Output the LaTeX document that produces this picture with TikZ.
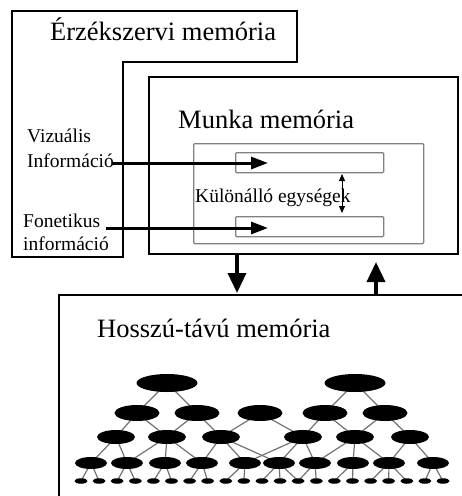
\documentclass[tikz,border=0pt]{standalone}
\usepackage{fontspec}
\setmainfont{Liberation Serif}
\usetikzlibrary{shapes.geometric,arrows.meta,backgrounds}
\begin{document}
\begin{tikzpicture}[x=1pt,y=-1pt,
  frame/.style={draw=black,line width=2pt},
  grayframe/.style={draw=black!50,line width=1.3pt,rounded corners=1pt},
  bigtext/.style={font=\fontsize{26.5}{30}\selectfont,inner sep=0,anchor=base west},
  smalltext/.style={font=\fontsize{19.5}{23}\selectfont,inner sep=0,anchor=base west},
  flowarrow/.style={line width=3pt,-{Triangle[length=17pt,width=12pt]}},
  vertarrow/.style={line width=3.5pt,-{Triangle[length=20pt,width=18pt]}},
  thinarrow/.style={line width=1pt,{Triangle[length=7pt,width=6pt]}-{Triangle[length=7pt,width=6pt]}},
  treeline/.style={draw=black!55,line width=1.2pt},
  lvA/.style={ellipse,fill=black,inner sep=0,minimum width=61pt,minimum height=18pt},
  lvB/.style={ellipse,fill=black,inner sep=0,minimum width=45pt,minimum height=16pt},
  lvC/.style={ellipse,fill=black,inner sep=0,minimum width=38pt,minimum height=14pt},
  lvD/.style={ellipse,fill=black,inner sep=0,minimum width=32pt,minimum height=12pt},
  lvE/.style={ellipse,fill=black,inner sep=0,minimum width=13pt,minimum height=5.5pt}
]
\useasboundingbox (0,0) rectangle (462,496);

% Sensory memory outline
\draw[frame] (12,11) -- (297,11) -- (297,62) -- (123,62) -- (123,257) -- (12,257) -- cycle;
\node[bigtext] (senstitle) at (50,40) {Érzékszervi memória};

% Working memory
\node[frame,anchor=north west,minimum width=309pt,minimum height=177pt,inner sep=0] (munka) at (148,76) {};
\node[bigtext] (munkatitle) at (178,128) {Munka memória};
\node[grayframe,anchor=north west,minimum width=230pt,minimum height=100pt,inner sep=0] (units) at (193,143) {};
\node[grayframe,anchor=north west,minimum width=148pt,minimum height=20pt,inner sep=0] (unitA) at (235,152) {};
\node[grayframe,anchor=north west,minimum width=148pt,minimum height=20pt,inner sep=0] (unitB) at (235,216) {};
\node[smalltext] (kulon) at (195,202) {Különálló egységek};
\coordinate (ud1) at (342,174);
\coordinate (ud2) at (342,213);
\draw[thinarrow] (ud1) -- (ud2);

% Inputs
\node[smalltext] (viz) at (27,142) {Vizuális};
\node[smalltext] (info1) at (27,167) {Információ};
\node[smalltext] (fon) at (23,227) {Fonetikus};
\node[smalltext] (info2) at (23,250) {információ};
\coordinate (s1) at (112,163);
\coordinate (t1) at (268,163);
\coordinate (s2) at (106,228);
\coordinate (t2) at (268,228);
\draw[flowarrow] (s1) -- (t1);
\draw[flowarrow] (s2) -- (t2);

% Long-term memory
\draw[frame] (59,500) -- (59,295) -- (470,295);
\node[bigtext] (hossztitle) at (97,337) {Hosszú-távú memória};
\coordinate (dA) at (237,255);
\coordinate (dB) at (237,293);
\coordinate (uA) at (376,295);
\coordinate (uB) at (376,262);
\draw[vertarrow] (dA) -- (dB);
\draw[vertarrow] (uA) -- (uB);

% Tree nodes
\node[lvA] (a1) at (167,383) {};
\node[lvA] (a2) at (355,383) {};
\foreach \x [count=\i] in {137,197,260,325,385} \node[lvB] (b\i) at (\x,413) {};
\foreach \x [count=\i] in {116,167,221,303,355,410} \node[lvC] (c\i) at (\x,437) {};
\foreach \x [count=\i] in {91,127,165,202,245,279,315,353,389,433} \node[lvD] (d\i) at (\x,463) {};
\foreach \i in {1,...,21} \node[lvE] (e\i) at ({81+18.1*(\i-1)},481) {};

\begin{scope}[on background layer]
\foreach \p/\q in {a1/b1,a1/b2,a2/b4,a2/b5,
  b1/c1,b1/c2,b2/c2,b2/c3,b3/c3,b3/c4,b4/c4,b4/c5,b5/c5,b5/c6,
  c1/d1,c1/d2,c2/d2,c2/d3,c2/d4,c3/d4,c3/d5,c3/d6,c4/d5,c4/d6,c4/d7,
  c5/d7,c5/d8,c5/d9,c6/d9,c6/d10,
  d1/e1,d1/e2,d2/e3,d2/e4,d3/e5,d3/e6,d4/e7,d4/e8,d5/e9,d5/e10,
  d6/e11,d6/e12,d6/e13,d7/e13,d7/e14,d8/e15,d8/e16,d9/e17,d9/e18,d9/e19,
  d10/e20,d10/e21}
  \draw[treeline] (\p.center) -- (\q.center);
\end{scope}
\end{tikzpicture}
\end{document}
